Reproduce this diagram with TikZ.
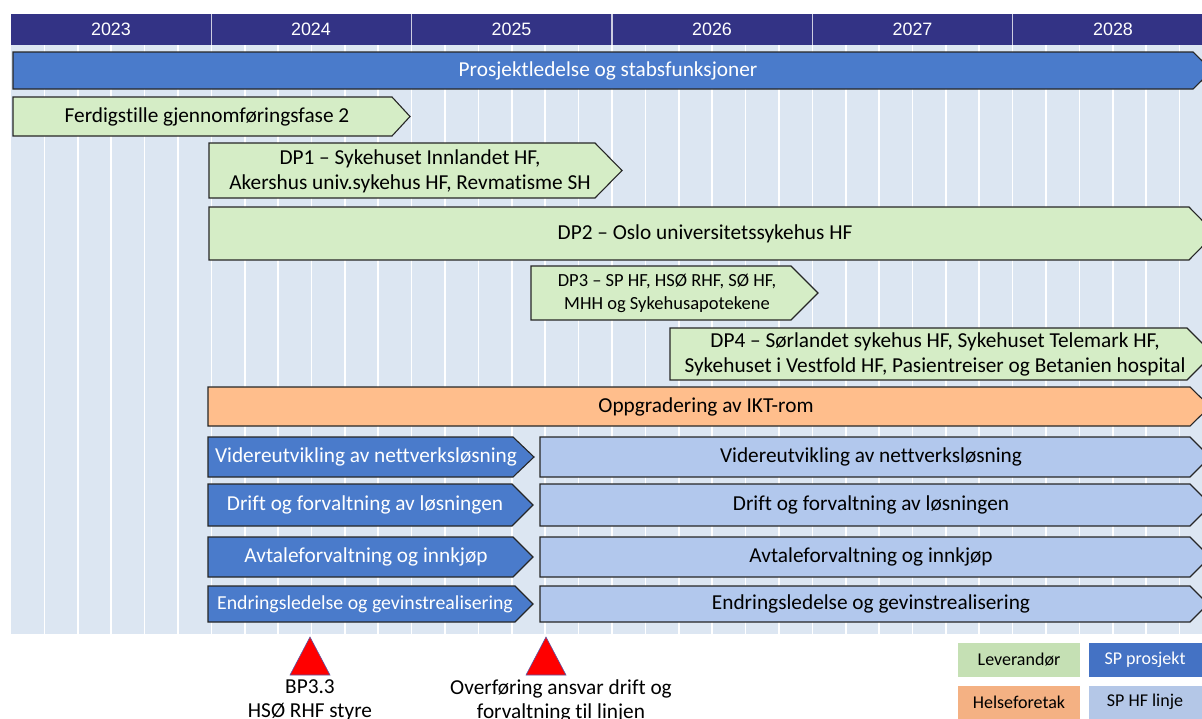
\documentclass[tikz,border=0pt]{standalone}
\usepackage{fontspec}
\setmainfont{Carlito}[Ligatures=CommonOff]
\newfontfamily\yearfont{Liberation Sans}
\usepackage{tikz}

\definecolor{hdrblue}{RGB}{51,51,133}
\definecolor{gridbg}{RGB}{220,230,242}
\definecolor{spblue}{RGB}{74,123,203}
\definecolor{levgreen}{RGB}{213,237,198}
\definecolor{hforange}{RGB}{255,190,140}
\definecolor{linjeblue}{RGB}{178,200,237}
\definecolor{leggreen}{RGB}{197,224,180}
\definecolor{legblue}{RGB}{68,114,196}
\definecolor{legorange}{RGB}{244,177,131}
\definecolor{leglight}{RGB}{180,199,231}

\begin{document}
\begin{tikzpicture}[x=1pt,y=-1pt,
    barline/.style={draw=black!85,line width=1.1pt},
    bartxt/.style={font=\fontsize{21.3}{25}\selectfont,align=center,inner sep=0pt},
    wtxt/.style={bartxt,text=white},
    smalltxt/.style={font=\fontsize{18.5}{23}\selectfont,align=center,inner sep=0pt},
    yeartxt/.style={font=\yearfont\fontsize{17.9}{20}\selectfont,text=white},
    legtxt/.style={font=\fontsize{18}{20}\selectfont}]
  \useasboundingbox (0,0) rectangle (1202,718);
  \clip (0,0) rectangle (1202,718);

  % background with bi-monthly grid
  \fill[gridbg] (11,45) rectangle (1202,634);
  \foreach \i in {1,...,36}
    \draw[white,line width=1.6pt] ({11+\i*200.33/6},45) -- ++(0,589);

  % year header
  \fill[hdrblue] (11,14) rectangle (1202,45);
  \foreach \i in {1,...,5}
    \draw[white!75!hdrblue,line width=1.3pt] ({11+\i*200.33},14) -- ++(0,31);
  \node[yeartxt] (y23) at (111,29.5) {2023};
  \node[yeartxt] (y24) at (311,29.5) {2024};
  \node[yeartxt] (y25) at (511.5,29.5) {2025};
  \node[yeartxt] (y26) at (712,29.5) {2026};
  \node[yeartxt] (y27) at (912.5,29.5) {2027};
  \node[yeartxt] (y28) at (1113,29.5) {2028};

  % prosjektledelse
  \draw[barline,fill=spblue] (13,52) -- (1193,52) -- (1212,70.5) -- (1193,89) -- (13,89) -- cycle;
  \node[wtxt] (pl) at (608,70.5) {Prosjektledelse og stabsfunksjoner};

  % gjennomforingsfase 2
  \draw[barline,fill=levgreen] (13,97) -- (392,97) -- (410,116.5) -- (392,136) -- (13,136) -- cycle;
  \node[bartxt] (gf2) at (207,116.5) {Ferdigstille gjennomføringsfase 2};

  % delprosjekter
  \draw[barline,fill=levgreen] (209,143) -- (595,143) -- (622,170.5) -- (595,198) -- (209,198) -- cycle;
  \node[bartxt] (dp1) at (410,171) {DP1 – Sykehuset Innlandet HF,\\Akershus univ.sykehus HF, Revmatisme SH};

  \draw[barline,fill=levgreen] (209,207) -- (1189,207) -- (1215,233.5) -- (1189,260) -- (209,260) -- cycle;
  \node[bartxt] (dp2) at (705,233.5) {DP2 – Oslo universitetssykehus HF};

  \draw[barline,fill=levgreen] (531,266) -- (791,266) -- (818,293) -- (791,320) -- (531,320) -- cycle;
  \node[smalltxt] (dp3) at (667,293.5) {DP3 – SP HF, HSØ RHF, SØ HF,\\MHH og Sykehusapotekene};

  \draw[barline,fill=levgreen] (670,328) -- (1187,328) -- (1213,354) -- (1187,380) -- (670,380) -- cycle;
  \node[bartxt] (dp4) at (935,354) {DP4 – Sørlandet sykehus HF, Sykehuset Telemark HF,\\Sykehuset i Vestfold HF, Pasientreiser og Betanien hospital};

  % IKT-rom
  \draw[barline,fill=hforange] (208,387) -- (1190,387) -- (1210,406.5) -- (1190,426) -- (208,426) -- cycle;
  \node[bartxt] (ikt) at (706,406.5) {Oppgradering av IKT-rom};

  % SP prosjekt rows
  \draw[barline,fill=spblue] (208,437) -- (513,437) -- (534,457) -- (513,477) -- (208,477) -- cycle;
  \node[wtxt] (vu1) at (366,457) {Videreutvikling av nettverksløsning};
  \draw[barline,fill=spblue] (208,484) -- (512,484) -- (533,505) -- (512,526) -- (208,526) -- cycle;
  \node[wtxt] (df1) at (365,505) {Drift og forvaltning av løsningen};
  \draw[barline,fill=spblue] (208,537) -- (513,537) -- (533,557) -- (513,577) -- (208,577) -- cycle;
  \node[wtxt] (af1) at (366,557) {Avtaleforvaltning og innkjøp};
  \draw[barline,fill=spblue] (208,586) -- (515,586) -- (533,604) -- (515,622) -- (208,622) -- cycle;
  \node[wtxt,font=\fontsize{19.8}{22}\selectfont] (eg1) at (365,604) {Endringsledelse og gevinstrealisering};

  % SP HF linje rows
  \draw[barline,fill=linjeblue] (540,437) -- (1190,437) -- (1210,457) -- (1190,477) -- (540,477) -- cycle;
  \node[bartxt] (vu2) at (871,457) {Videreutvikling av nettverksløsning};
  \draw[barline,fill=linjeblue] (540,484) -- (1190,484) -- (1211,505) -- (1190,526) -- (540,526) -- cycle;
  \node[bartxt] (df2) at (871,505) {Drift og forvaltning av løsningen};
  \draw[barline,fill=linjeblue] (540,537) -- (1190,537) -- (1210,557) -- (1190,577) -- (540,577) -- cycle;
  \node[bartxt] (af2) at (871,557) {Avtaleforvaltning og innkjøp};
  \draw[barline,fill=linjeblue] (540,586) -- (1190,586) -- (1208,604) -- (1190,622) -- (540,622) -- cycle;
  \node[bartxt] (eg2) at (871,604) {Endringsledelse og gevinstrealisering};

  % milestones
  \draw[fill=red,draw=blue!30!gray,line width=0.6pt] (310,637) -- (330,675) -- (290,675) -- cycle;
  \node[bartxt,font=\fontsize{21.3}{24}\selectfont,anchor=north] (bp) at (310,679) {BP3.3\\HSØ RHF styre};
  \draw[fill=red,draw=blue!30!gray,line width=0.6pt] (546,637) -- (566,675) -- (526,675) -- cycle;
  \node[bartxt,font=\fontsize{21.3}{24}\selectfont,anchor=north] (ov) at (561,679) {Overføring ansvar drift og\\forvaltning til linjen};

  % legend
  \fill[leggreen] (958,643) rectangle (1080,677);
  \node[legtxt] (lev) at (1019,660) {Leverandør};
  \fill[legblue] (1089,643) rectangle (1202,677);
  \node[legtxt,text=white] (spp) at (1145,660) {SP prosjekt};
  \fill[legorange] (958,686) rectangle (1080,720);
  \node[legtxt] (hf) at (1019,702) {Helseforetak};
  \fill[leglight] (1089,686) rectangle (1202,720);
  \node[legtxt] (spl) at (1145,702) {SP HF linje};
\end{tikzpicture}
\end{document}
